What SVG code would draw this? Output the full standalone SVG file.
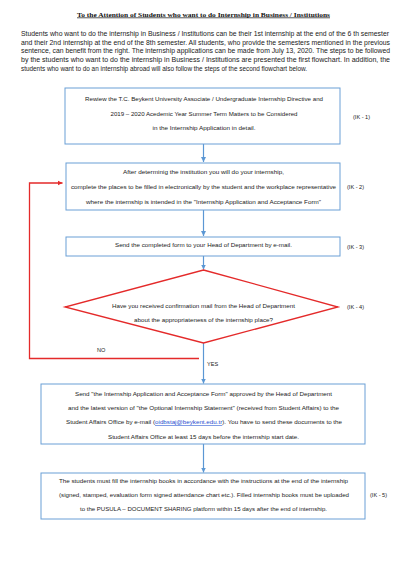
<svg xmlns="http://www.w3.org/2000/svg" width="400" height="582" viewBox="0 0 400 582">
<defs>
<style>
.t{font-family:"Liberation Sans","Open Sans",sans-serif;font-size:5.6px;fill:#222;text-anchor:middle}
.p{font-family:"Liberation Sans","Open Sans",sans-serif;font-size:6.6px;fill:#1a1a1a}
.title{font-family:"Liberation Serif","Times New Roman",serif;font-size:7px;font-weight:bold;fill:#111;text-anchor:middle;text-decoration:underline}
.lbl{font-family:"Liberation Sans","Open Sans",sans-serif;font-size:5.6px;fill:#222}
.box{fill:#fff;stroke:#6a9fd6;stroke-width:1}
.blue{stroke:#5b97d4;stroke-width:1.2;fill:none}
.red{stroke:#e42a2a;stroke-width:1.3;fill:none}
</style>
<marker id="ab" markerWidth="6" markerHeight="6" refX="5" refY="3" orient="auto" markerUnits="userSpaceOnUse"><path d="M0,0.5 L5,3 L0,5.5 z" fill="#5b97d4"/></marker>
<marker id="ar" markerWidth="6" markerHeight="6" refX="5" refY="3" orient="auto" markerUnits="userSpaceOnUse"><path d="M0,0.5 L5,3 L0,5.5 z" fill="#e42a2a"/></marker>
</defs>
<rect width="400" height="582" fill="#fff"/>
<text class="title" x="203.5" y="16.5" textLength="253" lengthAdjust="spacingAndGlyphs">To the Attention of Students who want to do Internship in Business / Institutions</text>
<g id="intro">
<text class="p" x="21" y="35.6" textLength="368" lengthAdjust="spacingAndGlyphs">Students who want to do the internship in Business / Institutions can be their 1st internship at the end of the 6 th semester</text>
<text class="p" x="21" y="44.6" textLength="369" lengthAdjust="spacingAndGlyphs">and their 2nd internship at the end of the 8th semester.  All students, who provide the semesters mentioned in the previous</text>
<text class="p" x="21" y="53.4" textLength="369" lengthAdjust="spacingAndGlyphs">sentence, can benefit from the right. The internship applications can be made from July 13, 2020.  The steps to be followed</text>
<text class="p" x="21" y="62.3" textLength="369" lengthAdjust="spacingAndGlyphs">by the students who want to do the internship in Business / Institutions are presented the first flowchart. In addition, the</text>
<text class="p" x="21" y="71.3" textLength="286" lengthAdjust="spacingAndGlyphs">students who want to do an internship abroad will also follow the steps of the second flowchart below.</text>
</g>
<g id="connectors">
<line class="blue" x1="203.5" y1="144" x2="203.5" y2="162" marker-end="url(#ab)"/>
<line class="blue" x1="203.5" y1="210" x2="203.5" y2="236" marker-end="url(#ab)"/>
<line class="blue" x1="203.5" y1="256" x2="203.5" y2="269.5" marker-end="url(#ab)"/>
<line class="blue" x1="203.5" y1="343" x2="203.5" y2="383.5" marker-end="url(#ab)"/>
<line class="blue" x1="203.5" y1="444" x2="203.5" y2="472.5" marker-end="url(#ab)"/>
<polyline class="red" points="199,358.5 29.5,358.5 29.5,183 62.5,183" marker-end="url(#ar)"/>
<text class="lbl" x="97" y="352">NO</text>
<text class="lbl" x="207" y="365.5">YES</text>
</g>
<g id="ik1">
<rect class="box" x="65" y="88" width="275" height="56"/>
<text class="t" x="204" y="101.2" textLength="238" lengthAdjust="spacingAndGlyphs">Rewiew the T.C. Beykent University Associate / Undergraduate Internship Directive and</text>
<text class="t" x="204" y="116" textLength="187" lengthAdjust="spacingAndGlyphs">2019 – 2020 Acedemic Year Summer Term Matters to be Considered</text>
<text class="t" x="204" y="130" textLength="103" lengthAdjust="spacingAndGlyphs">in the Internship Application in detail.</text>
<text class="lbl" x="353" y="119">(IK - 1)</text>
</g>
<g id="ik2">
<rect class="box" x="66" y="163" width="274" height="47"/>
<text class="t" x="203.5" y="174" textLength="161" lengthAdjust="spacingAndGlyphs">After determinig the institution you will do your internship,</text>
<text class="t" x="203.5" y="189" textLength="265" lengthAdjust="spacingAndGlyphs">complete the places to be filled in electronically by the student and the workplace representative</text>
<text class="t" x="203.5" y="204" textLength="235" lengthAdjust="spacingAndGlyphs">where the internship is intended in the "Internship Application and Acceptance Form"</text>
<text class="lbl" x="347" y="189">(IK - 2)</text>
</g>
<g id="ik3">
<rect class="box" x="66" y="237" width="274" height="19"/>
<text class="t" x="203.5" y="247.2" textLength="177" lengthAdjust="spacingAndGlyphs">Send the completed form to your Head of Department by e-mail.</text>
<text class="lbl" x="347" y="249">(IK - 3)</text>
</g>
<g id="ik4">
<path d="M203.5,270 L338,307 L203.5,343 L65,307 Z" class="red" fill="#fff" stroke-width="1"/>
<text class="t" x="203.5" y="307.8" textLength="183" lengthAdjust="spacingAndGlyphs">Have you received confirmation mail from the Head of Department</text>
<text class="t" x="203.5" y="322" textLength="139" lengthAdjust="spacingAndGlyphs">about the appropriateness of the internship place?</text>
<text class="lbl" x="347" y="309">(IK - 4)</text>
</g>
<g id="step-send">
<rect class="box" x="41" y="384" width="324" height="60"/>
<text class="t" x="203.5" y="396" textLength="257" lengthAdjust="spacingAndGlyphs">Send  "the Internship Application and Acceptance Form" approved by the Head of Department</text>
<text class="t" x="203.5" y="410" textLength="271" lengthAdjust="spacingAndGlyphs">and the latest version of "the Optional Internship Statement" (received from Student Affairs) to the</text>
<text class="t" x="204" y="424" textLength="276" lengthAdjust="spacingAndGlyphs">Student Affairs Office by e-mail (<tspan fill="#1f4fd0" text-decoration="underline">oidbstaj@beykent.edu.tr</tspan>). You have to send these documents to the</text>
<text class="t" x="203.5" y="439" textLength="191" lengthAdjust="spacingAndGlyphs">Student Affairs Office at least 15 days before the internship start date.</text>
</g>
<g id="ik5">
<rect class="box" x="41" y="473" width="324" height="46"/>
<text class="t" x="203.5" y="483" textLength="289" lengthAdjust="spacingAndGlyphs">The students must fill the internship books in accordance with the instructions at the end of the internship</text>
<text class="t" x="204" y="497" textLength="290" lengthAdjust="spacingAndGlyphs">(signed, stamped, evaluation form signed attendance chart etc.). Filled internship books must be uploaded</text>
<text class="t" x="203.5" y="511" textLength="247" lengthAdjust="spacingAndGlyphs">to the PUSULA – DOCUMENT SHARING platform within 15 days after the end of internship.</text>
<text class="lbl" x="370" y="497">(IK - 5)</text>
</g>
</svg>
